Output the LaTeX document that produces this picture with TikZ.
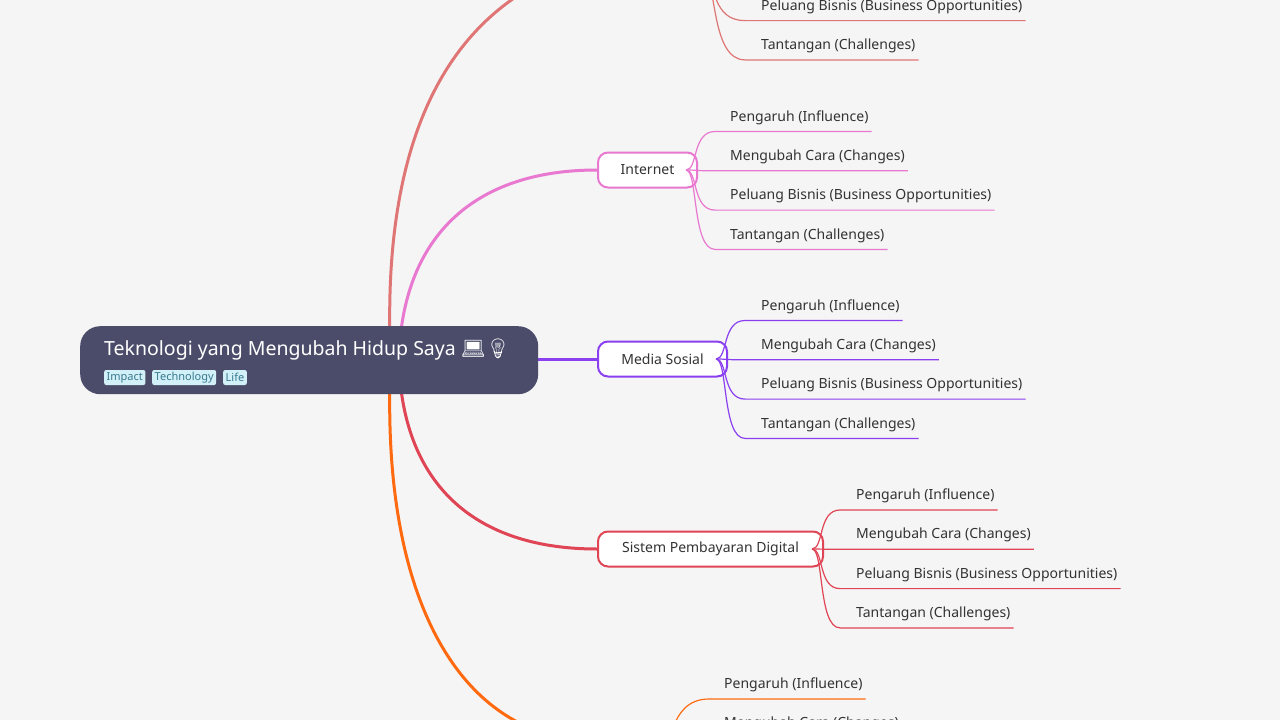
\documentclass[tikz,border=0pt]{standalone}
\usepackage{fontspec}
\setmainfont{Noto Sans}
\newfontfamily\emo{Noto Emoji}
\definecolor{bg}{HTML}{F5F5F5}
\definecolor{rootc}{HTML}{4A4C6A}
\definecolor{tagc}{HTML}{D2F0F8}
\definecolor{tagt}{HTML}{3A7A90}
\definecolor{cA}{HTML}{E07575}
\definecolor{cB}{HTML}{E878D0}
\definecolor{cC}{HTML}{8A3FF0}
\definecolor{cD}{HTML}{E04555}
\definecolor{cE}{HTML}{FF6A10}
\definecolor{txt}{HTML}{333333}
\tikzset{
 tag/.style={fill=tagc,rounded corners=2pt,inner xsep=2.5pt,inner ysep=0pt,text=tagt,font=\fontsize{11}{12}\selectfont,anchor=west,minimum height=15pt},
 topic/.style={draw=#1,line width=2pt,fill=white,rounded corners=10pt,font=\fontsize{14}{16}\selectfont,text=txt,anchor=west,minimum height=35pt,inner xsep=20pt},
 leaf/.style={font=\fontsize{14}{16}\selectfont,text=txt,anchor=west,inner sep=0pt},
 br/.style={draw=#1,line width=3pt},
 sub/.style={draw=#1,line width=1.2pt},
}
\newcommand{\kids}[6]{% color, parent x, parent y, start x, text x, first y
 \foreach \t [count=\i from 0] in {Pengaruh (Influence),Mengubah Cara (Changes),Peluang Bisnis (Business Opportunities),Tantangan (Challenges)}{
  \pgfmathsetmacro{\yy}{#6+39.3*\i}
  \node[leaf] (k#1\i) at (#5,\yy+2) {\t};
  \coordinate (u#1\i) at (#4,\yy+16);
  \draw[sub=#1] (#2,#3) .. controls (#2+12,#3) and (#2+6,\yy+16) .. (u#1\i) -- (k#1\i.east |- u#1\i) -- ++(3,0);
 }}
\begin{document}
\begin{tikzpicture}[x=1pt,y=-1pt]
\useasboundingbox[fill=bg] (0,0) rectangle (1280,720);
\clip (0,0) rectangle (1280,720);
% branches
\draw[br=cA] (390,340) .. controls (385,150) and (440,40) .. (530,-12);
\draw[br=cE] (390,380) .. controls (385,570) and (440,690) .. (530,728);
\draw[br=cB] (400,340) .. controls (410,230) and (480,170) .. (597,170);
\draw[br=cD] (400,380) .. controls (410,490) and (480,549) .. (597,549);
\draw[br=cC] (530,359) -- (597,359);
% root
\node[fill=rootc,rounded corners=20pt,minimum width=458pt,minimum height=68pt,anchor=north west,inner sep=0pt] (root) at (80,326) {};
\node[anchor=base west,text=white,font=\fontsize{19.5}{22}\selectfont,inner sep=0pt] (title) at (104,355) {Teknologi yang Mengubah Hidup Saya {\emo 💻💡}};
\node[tag] (t1) at (104,377.5) {Impact};
\node[tag] (t2) at (152,377.5) {Technology};
\node[tag] (t3) at (223,377.5) {Life};
% topics
\draw[draw=cA,line width=2pt,fill=white,rounded corners=10pt] (597,-40) rectangle (715,-1);
\node[topic=cB,minimum width=99pt,inner xsep=0pt] (inet) at (597,170) {Internet};
\node[topic=cC,minimum width=129pt,inner xsep=0pt] (media) at (597,359) {Media Sosial};
\node[topic=cD,minimum width=225pt,inner xsep=0pt] (bayar) at (597,549) {Sistem Pembayaran Digital};
% leaves
\kids{cA}{705}{-19}{745}{761}{-74}
\kids{cB}{686}{170}{715}{730}{115.5}
\kids{cC}{716}{359}{745}{761}{304.5}
\kids{cD}{812}{549}{840}{856}{494}
\kids{cE}{660}{757}{709}{724}{683}
\end{tikzpicture}
\end{document}
